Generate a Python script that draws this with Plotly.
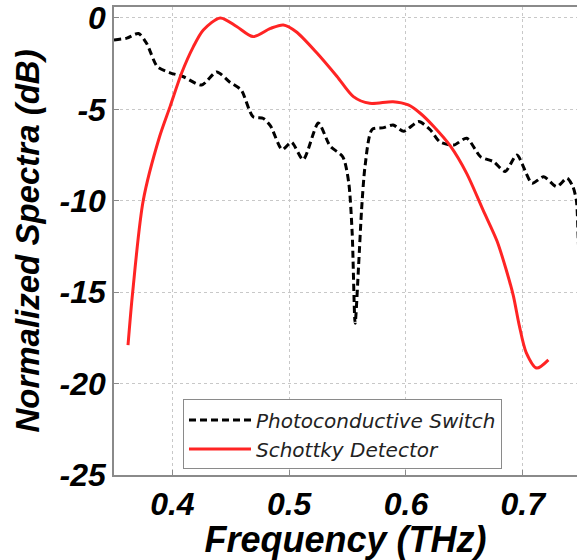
import plotly.graph_objects as go

# Photoconductive switch (black dashed)
pc_freq = [0.350, 0.361, 0.371, 0.378, 0.387, 0.398, 0.409, 0.425, 0.438, 0.449,
           0.459, 0.469, 0.478, 0.484, 0.494, 0.502, 0.512, 0.525, 0.535, 0.546,
           0.551, 0.554, 0.5565, 0.5595, 0.562, 0.565, 0.571, 0.581, 0.589, 0.598,
           0.611, 0.621, 0.629, 0.641, 0.652, 0.664, 0.675, 0.685, 0.695, 0.708,
           0.718, 0.729, 0.738, 0.743, 0.746, 0.7475, 0.749]
pc_db = [-1.2, -1.1, -0.85, -1.4, -2.65, -3.0, -3.2, -3.67, -2.95, -3.5,
         -3.95, -5.4, -5.5, -5.9, -7.2, -6.8, -7.75, -5.75, -7.0, -7.6,
         -9.0, -11.8, -16.7, -13.5, -10.5, -8.1, -6.1, -6.0, -5.85, -6.2,
         -5.67, -6.13, -6.77, -6.95, -6.58, -7.6, -7.86, -8.4, -7.5, -9.04,
         -8.68, -9.23, -8.77, -9.23, -10.0, -12.0, -14.5]

# Schottky detector (red solid)
sd_freq = [0.362, 0.366, 0.375, 0.389, 0.398, 0.408, 0.418, 0.4265, 0.441, 0.455,
           0.469, 0.484, 0.495, 0.506, 0.524, 0.541, 0.555, 0.569, 0.589, 0.602,
           0.612, 0.624, 0.638, 0.652, 0.666, 0.678, 0.686, 0.692, 0.697, 0.703,
           0.712, 0.722]
sd_db = [-17.9, -15.0, -10.0, -6.5, -4.85, -3.0, -1.57, -0.66, 0.0, -0.47,
         -1.02, -0.57, -0.38, -0.75, -1.93, -3.2, -4.3, -4.67, -4.58, -4.76,
         -5.2, -5.95, -7.0, -8.5, -10.5, -12.2, -13.8, -15.2, -16.8, -18.3,
         -19.15, -18.7]

x_ticks = [0.4, 0.5, 0.6, 0.7]
x_tick_labels = ["0.4", "0.5", "0.6", "0.7"]
y_ticks = [0, -5, -10, -15, -20, -25]
y_tick_labels = ["0", "-5", "-10", "-15", "-20", "-25"]

FONT = "Liberation Sans, Arial, sans-serif"

fig = go.Figure()
fig.add_trace(go.Scatter(
    x=pc_freq, y=pc_db, mode="lines", name="Photoconductive Switch",
    line=dict(color="black", width=3, dash="7px,4px", shape="spline", smoothing=0.7),
))
fig.add_trace(go.Scatter(
    x=sd_freq, y=sd_db, mode="lines", name="Schottky Detector",
    line=dict(color="#ff2424", width=3, shape="spline", smoothing=0.8),
))

axis_common = dict(
    showgrid=True, gridcolor="#c8c8c8", griddash="dot", gridwidth=1,
    showline=True, linecolor="#8a8a8a", linewidth=1.5,
    ticks="inside", ticklen=5, tickcolor="#8a8a8a",
    zeroline=False,
    tickfont=dict(family=FONT, size=32, color="black", weight="bold", style="italic"),
)

fig.update_layout(
    width=577, height=560,
    margin=dict(l=114, r=0, t=7, b=85),
    paper_bgcolor="white", plot_bgcolor="white",
    xaxis=dict(
        range=[0.35, 0.7465], tickvals=x_ticks, ticktext=x_tick_labels, mirror=True,
        title=dict(text="Frequency (THz)", standoff=0,
                   font=dict(family=FONT, size=36, color="black", weight="bold", style="italic")),
        **axis_common,
    ),
    yaxis=dict(
        range=[-25, 0.6], tickvals=y_ticks, ticktext=y_tick_labels, mirror=False,
        title=dict(text="Normalized Spectra (dB)", standoff=10,
                   font=dict(family=FONT, size=33, color="black", weight="bold", style="italic")),
        **axis_common,
    ),
    showlegend=True,
    legend=dict(
        x=0.149, y=0.012, xanchor="left", yanchor="bottom",
        bgcolor="white", bordercolor="#8a8a8a", borderwidth=1,
        font=dict(family="DejaVu Sans", size=20, color="#222222", style="italic"),
        itemwidth=62, tracegroupgap=0,
    ),
)

fig.write_html("out.html")
